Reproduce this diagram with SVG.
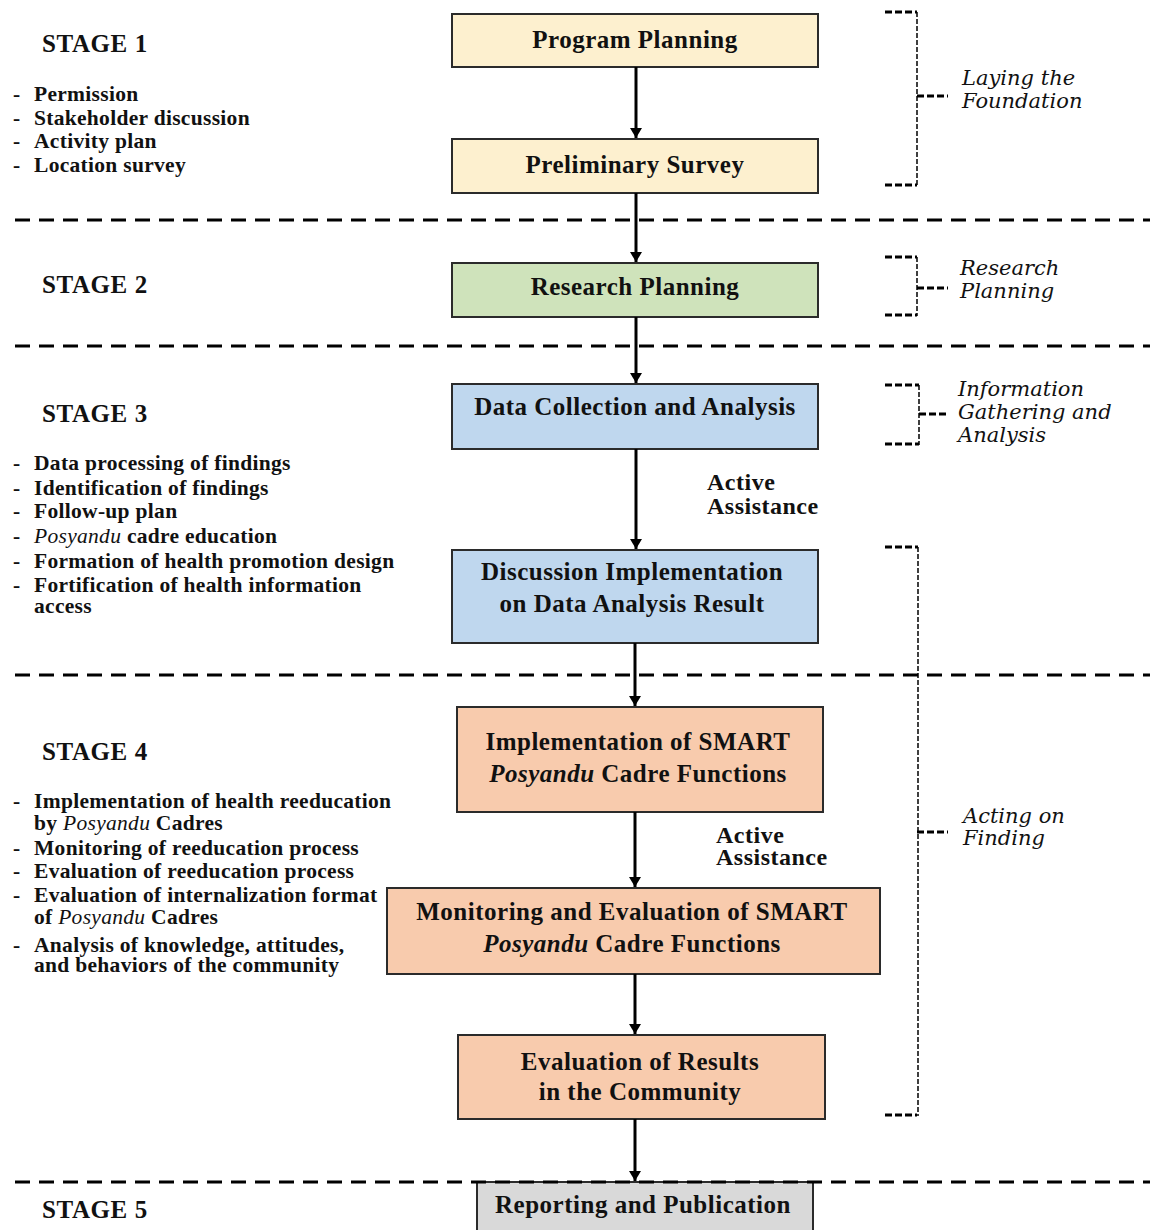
<svg xmlns="http://www.w3.org/2000/svg" width="1150" height="1230" viewBox="0 0 1150 1230">
<defs>
<marker id="ah" viewBox="0 0 10 12" refX="10" refY="6" markerWidth="10" markerHeight="12" markerUnits="userSpaceOnUse" orient="auto">
<path d="M0,0 L10,6 L0,12 Z" fill="#000"/>
</marker>
<style>
.box{stroke:#2b2b2b;stroke-width:2}
.y{fill:#fdf0cf}
.g{fill:#cfe3bb}
.b{fill:#bfd7ee}
.o{fill:#f8cbad}
.gr{fill:#d9d9d9}
.bt{font-family:"Liberation Serif","Times New Roman",serif;font-weight:bold;font-size:25px;letter-spacing:0.5px;fill:#111;text-anchor:middle}
.st{font-family:"Liberation Serif","Times New Roman",serif;font-weight:bold;font-size:25px;letter-spacing:0.6px;fill:#111}
.li{font-family:"Liberation Serif","Times New Roman",serif;font-weight:bold;font-size:21.5px;letter-spacing:0.3px;fill:#111}
.it{font-style:italic;font-weight:normal}
.bi{font-style:italic}
.lab{font-family:"DejaVu Serif","Liberation Serif",serif;font-style:italic;font-size:21px;fill:#111}
.aa{font-family:"Liberation Serif","Times New Roman",serif;font-weight:bold;font-size:24px;letter-spacing:0.5px;fill:#111}
.sep{stroke:#000;stroke-width:3;stroke-dasharray:15 9;fill:none}
.brh{stroke:#000;stroke-width:3;stroke-dasharray:7 3;fill:none}
.brv{stroke:#000;stroke-width:1.5;stroke-dasharray:5 2;fill:none}
.arr{stroke:#000;stroke-width:3;fill:none;marker-end:url(#ah)}
</style>
</defs>
<rect width="1150" height="1230" fill="#fff"/>

<g id="separators">
<line class="sep" x1="15" y1="220" x2="1150" y2="220"/>
<line class="sep" x1="15" y1="346" x2="1150" y2="346"/>
<line class="sep" x1="15" y1="675" x2="1150" y2="675"/>
</g>

<g id="n-program-planning">
<rect class="box y" x="452" y="14" width="366" height="53"/>
<text class="bt" x="635" y="48">Program Planning</text>
</g>
<g id="n-preliminary-survey">
<rect class="box y" x="452" y="139" width="366" height="54"/>
<text class="bt" x="635" y="173">Preliminary Survey</text>
</g>
<g id="n-research-planning">
<rect class="box g" x="452" y="263" width="366" height="54"/>
<text class="bt" x="635" y="295">Research  Planning</text>
</g>
<g id="n-data-collection">
<rect class="box b" x="452" y="384" width="366" height="65"/>
<text class="bt" x="635" y="415">Data Collection  and Analysis</text>
</g>
<g id="n-discussion">
<rect class="box b" x="452" y="550" width="366" height="93"/>
<text class="bt" x="632" y="580">Discussion  Implementation</text>
<text class="bt" x="632" y="612">on Data Analysis Result</text>
</g>
<g id="n-implementation">
<rect class="box o" x="457" y="707" width="366" height="105"/>
<text class="bt" x="638" y="750">Implementation  of SMART</text>
<text class="bt" x="638" y="782"><tspan class="bi">Posyandu</tspan>  Cadre Functions</text>
</g>
<g id="n-monitoring">
<rect class="box o" x="387" y="888" width="493" height="86"/>
<text class="bt" x="632" y="920">Monitoring  and Evaluation  of SMART</text>
<text class="bt" x="632" y="952"><tspan class="bi">Posyandu</tspan>  Cadre Functions</text>
</g>
<g id="n-evaluation">
<rect class="box o" x="458" y="1035" width="367" height="84"/>
<text class="bt" x="640" y="1070">Evaluation  of Results</text>
<text class="bt" x="640" y="1100">in the Community</text>
</g>
<g id="n-reporting">
<rect class="box gr" x="477" y="1182" width="336" height="60"/>
<text class="bt" x="643" y="1213">Reporting  and Publication</text>
</g>

<g id="separator-5">
<line class="sep" x1="15" y1="1182" x2="1150" y2="1182"/>
</g>

<g id="connectors">
<line class="arr" x1="636" y1="67" x2="636" y2="138"/>
<line class="arr" x1="636" y1="193" x2="636" y2="262"/>
<line class="arr" x1="636" y1="317" x2="636" y2="383"/>
<line class="arr" x1="636" y1="449" x2="636" y2="549"/>
<line class="arr" x1="635" y1="643" x2="635" y2="706"/>
<line class="arr" x1="635" y1="812" x2="635" y2="887"/>
<line class="arr" x1="635" y1="974" x2="635" y2="1034"/>
<line class="arr" x1="635" y1="1119" x2="635" y2="1181"/>
</g>

<g id="assist-1">
<text class="aa" x="707" y="490">Active</text>
<text class="aa" x="707" y="514">Assistance</text>
</g>
<g id="assist-2">
<text class="aa" x="716" y="843">Active</text>
<text class="aa" x="716" y="865">Assistance</text>
</g>

<g id="stage-1">
<text class="st" x="42" y="52">STAGE 1</text>
<text class="li" x="13" y="101">-<tspan x="34">Permission</tspan></text>
<text class="li" x="13" y="125">-<tspan x="34">Stakeholder discussion</tspan></text>
<text class="li" x="13" y="148">-<tspan x="34">Activity plan</tspan></text>
<text class="li" x="13" y="172">-<tspan x="34">Location survey</tspan></text>
</g>
<g id="stage-2">
<text class="st" x="42" y="293">STAGE 2</text>
</g>
<g id="stage-3">
<text class="st" x="42" y="422">STAGE 3</text>
<text class="li" x="13" y="470">-<tspan x="34">Data processing of findings</tspan></text>
<text class="li" x="13" y="495">-<tspan x="34">Identification of findings</tspan></text>
<text class="li" x="13" y="518">-<tspan x="34">Follow-up plan</tspan></text>
<text class="li" x="13" y="543">-<tspan x="34" class="it">Posyandu</tspan> cadre education</text>
<text class="li" x="13" y="568">-<tspan x="34">Formation of health promotion design</tspan></text>
<text class="li" x="13" y="592">-<tspan x="34">Fortification  of health information</tspan></text>
<text class="li" x="34" y="613">access</text>
</g>
<g id="stage-4">
<text class="st" x="42" y="760">STAGE 4</text>
<text class="li" x="13" y="808">-<tspan x="34">Implementation of health reeducation</tspan></text>
<text class="li" x="34" y="830">by <tspan class="it">Posyandu</tspan> Cadres</text>
<text class="li" x="13" y="855">-<tspan x="34">Monitoring of reeducation  process</tspan></text>
<text class="li" x="13" y="878">-<tspan x="34">Evaluation of reeducation process</tspan></text>
<text class="li" x="13" y="902">-<tspan x="34">Evaluation of internalization  format</tspan></text>
<text class="li" x="34" y="924">of <tspan class="it">Posyandu</tspan> Cadres</text>
<text class="li" x="13" y="952">-<tspan x="34">Analysis of knowledge, attitudes,</tspan></text>
<text class="li" x="34" y="972">and behaviors of the community</text>
</g>
<g id="stage-5">
<text class="st" x="42" y="1218">STAGE 5</text>
</g>

<g id="bracket-laying-foundation">
<path class="brh" d="M885,12 H917 M885,185 H917 M917,96 H948"/>
<path class="brv" d="M917,12 V187"/>
<text class="lab" x="962" y="85">Laying the</text>
<text class="lab" x="962" y="108">Foundation</text>
</g>
<g id="bracket-research-planning">
<path class="brh" d="M885,257 H917 M885,315 H917 M917,288 H948"/>
<path class="brv" d="M917,257 V316"/>
<text class="lab" x="960" y="275">Research</text>
<text class="lab" x="960" y="298">Planning</text>
</g>
<g id="bracket-information">
<path class="brh" d="M885,385 H919 M885,444 H919 M919,414 H948"/>
<path class="brv" d="M919,385 V445"/>
<text class="lab" x="958" y="396">Information</text>
<text class="lab" x="958" y="419">Gathering and</text>
<text class="lab" x="958" y="442">Analysis</text>
</g>
<g id="bracket-acting">
<path class="brh" d="M885,547 H918 M885,1115 H917 M917,832 H948"/>
<path class="brv" d="M918,547 V1116"/>
<text class="lab" x="963" y="823">Acting on</text>
<text class="lab" x="963" y="845">Finding</text>
</g>
</svg>
